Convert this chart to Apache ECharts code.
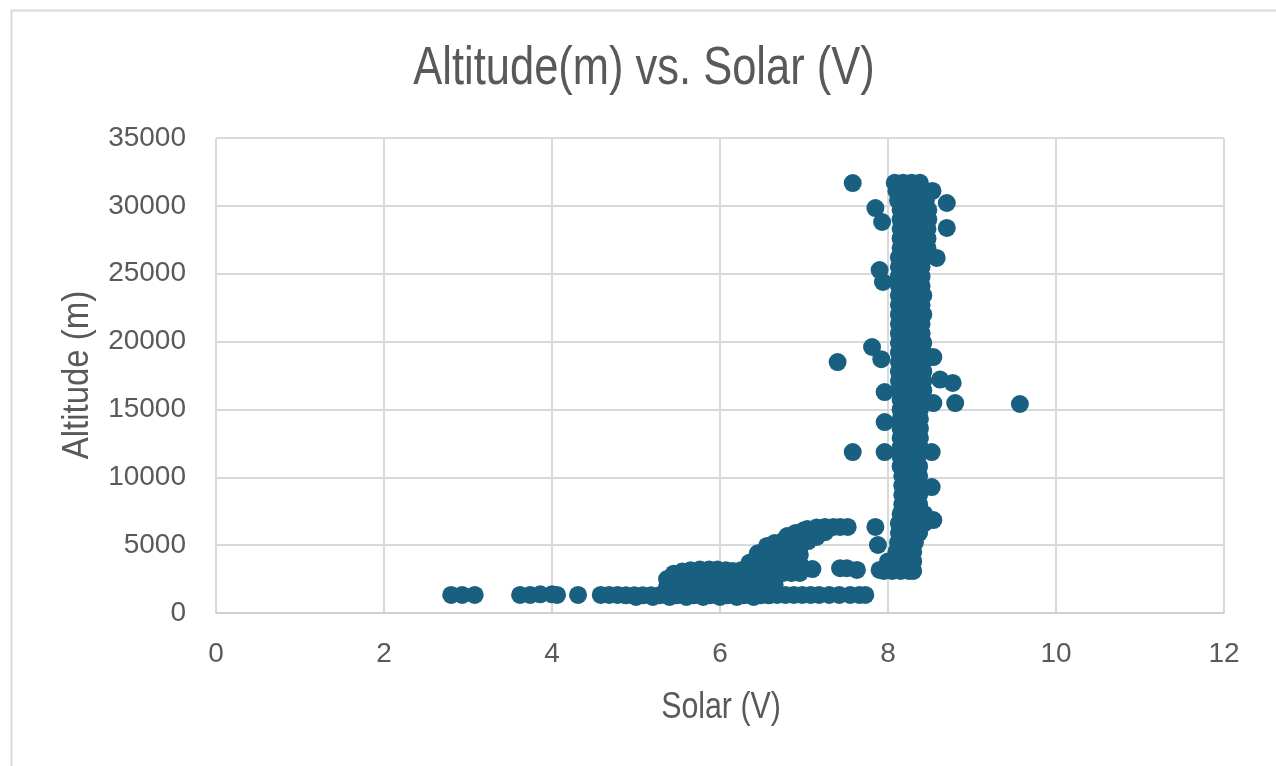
<!DOCTYPE html>
<html>
<head>
<meta charset="utf-8">
<script src="https://cdn.jsdelivr.net/npm/echarts@6/dist/echarts.min.js"></script>
<style>
html,body{margin:0;padding:0;background:#fff;}
#chart{width:1276px;height:766px;}
</style>
</head>
<body>
<div id="chart"></div>
<script>
// ---- data (Solar V, Altitude m) ----
const titleText = "Altitude(m) vs. Solar (V)";
const xAxisTitle = "Solar (V)";
const yAxisTitle = "Altitude (m)";
const xTicks = [0, 2, 4, 6, 8, 10, 12];
const yTicks = [0, 5000, 10000, 15000, 20000, 25000, 30000, 35000];

// low band near 1300 m
const lowBand = [
  [2.8,1330],[2.93,1330],[3.08,1330],
  [3.62,1330],[3.74,1330],[3.86,1380],[4.0,1380],[4.06,1330],
  [4.31,1330],
  [4.58,1330],[4.68,1330],[4.78,1330],[4.88,1300],[4.98,1300],[5.08,1300],[5.18,1300],
  [5.28,1300],[5.38,1300],[5.48,1300],[5.58,1300],[5.68,1300],[5.78,1300],[5.88,1300],
  [5.98,1300],[6.08,1300],[6.18,1300],[6.28,1300],[6.38,1300],[6.48,1300],[6.58,1300],
  [6.68,1330],[6.78,1330],[6.88,1330],[6.98,1330],[7.08,1330],[7.18,1330],[7.3,1330],
  [7.42,1330],[7.55,1330],[7.66,1330],[7.73,1330],
  [5.0,1180],[5.2,1180],[5.4,1180],[5.6,1180],[5.8,1180],[6.0,1180],[6.2,1180],[6.4,1180]
];

// middle band 1900-3200 m
const midBand = [
  [5.37,1900],[5.47,1900],[5.57,1900],[5.67,1900],[5.77,1900],[5.87,1900],[5.97,1900],[6.07,1900],[6.17,1900],
  [5.37,2500],[5.47,2600],[5.57,2600],[5.67,2600],[5.77,2600],[5.87,2600],[5.97,2600],[6.07,2600],[6.17,2600],
  [5.45,2900],[5.55,3050],[5.65,3150],[5.76,3200],[5.87,3200],[5.97,3200],[6.07,3150],[6.15,3100]
];

// rising curve 6.2-7.5 V
const riseCurve = [
  [6.25,1900],[6.25,2500],[6.25,3150],
  [6.35,1900],[6.35,2500],[6.35,3100],[6.35,3700],
  [6.45,1900],[6.45,2500],[6.45,3100],[6.45,3700],[6.45,4400],
  [6.55,2000],[6.55,2600],[6.55,3200],[6.55,3800],[6.55,4400],[6.56,4940],
  [6.65,2100],[6.65,2700],[6.65,3300],[6.65,3900],[6.65,4500],[6.65,5150],
  [6.75,2950],[6.75,3500],[6.75,4100],[6.75,4700],[6.75,5300],[6.8,5670],
  [6.85,2950],[6.85,3600],[6.85,4200],[6.85,4800],[6.85,5400],[6.9,5900],
  [6.95,2950],[6.95,3600],[6.95,4300],[6.95,4900],[6.97,5500],[7.0,6100],
  [7.05,5300],[7.05,5800],[7.04,6190],
  [7.15,5600],[7.15,6300],
  [7.25,5950],[7.25,6340],
  [7.35,6340],[7.43,6340],[7.52,6340],
  [7.1,3240],[7.43,3300],[7.51,3300],[7.63,3170]
];

// main vertical column near 8.1-8.5 V
const column = [
  [7.95,3100],[8.05,3100],[8.15,3100],[8.25,3100],[8.3,3100],
  [8.0,3800],[8.1,3800],[8.2,3800],[8.3,3800],
  [8.1,4500],[8.2,4500],[8.3,4500],
  [8.12,5200],[8.22,5200],[8.32,5200],
  [8.13,5900],[8.23,5900],[8.33,5900],[8.37,5900],
  [8.13,6600],[8.23,6600],[8.33,6600],[8.43,6600],
  [8.15,7300],[8.25,7300],[8.35,7300],[8.43,7300],
  [8.17,8000],[8.27,8000],[8.37,8000],
  [8.17,8700],[8.27,8700],[8.37,8700],
  [8.17,9400],[8.27,9400],[8.37,9400],
  [8.17,10100],[8.27,10100],[8.37,10100],
  [8.15,10800],[8.25,10800],[8.37,10800],
  [8.15,11500],[8.25,11500],[8.35,11500],
  [8.15,12200],[8.25,12200],[8.38,12200],
  [8.15,12900],[8.25,12900],[8.38,12900],
  [8.15,13600],[8.25,13600],[8.38,13600],
  [8.15,14300],[8.25,14300],[8.38,14300],
  [8.15,15000],[8.25,15000],[8.38,15000],
  [8.15,15700],[8.25,15700],[8.4,15700],
  [8.13,16400],[8.23,16400],[8.33,16400],[8.42,16400],
  [8.13,17100],[8.23,17100],[8.33,17100],[8.42,17100],
  [8.13,17800],[8.23,17800],[8.33,17800],[8.42,17800],
  [8.13,18500],[8.23,18500],[8.33,18500],[8.42,18500],
  [8.13,19200],[8.23,19200],[8.33,19200],[8.42,19200],
  [8.13,19900],[8.23,19900],[8.33,19900],[8.42,19900],
  [8.13,20600],[8.23,20600],[8.33,20600],[8.4,20600],
  [8.13,21300],[8.23,21300],[8.33,21300],[8.4,21300],
  [8.13,22000],[8.23,22000],[8.33,22000],[8.42,22000],
  [8.13,22700],[8.23,22700],[8.33,22700],[8.4,22700],
  [8.13,23400],[8.23,23400],[8.33,23400],[8.42,23400],
  [8.13,24100],[8.23,24100],[8.33,24100],[8.4,24100],
  [8.13,24800],[8.23,24800],[8.33,24800],[8.4,24800],
  [8.13,25500],[8.23,25500],[8.33,25500],[8.4,25500],
  [8.13,26200],[8.23,26200],[8.33,26200],[8.42,26200],
  [8.15,26900],[8.25,26900],[8.35,26900],[8.47,26900],
  [8.15,27600],[8.25,27600],[8.35,27600],[8.47,27600],
  [8.15,28300],[8.25,28300],[8.35,28300],[8.47,28300],
  [8.15,29000],[8.25,29000],[8.35,29000],[8.48,29000],
  [8.15,29700],[8.25,29700],[8.35,29700],[8.48,29700],
  [8.12,30400],[8.22,30400],[8.32,30400],[8.45,30400],
  [8.1,31100],[8.2,31100],[8.3,31100],[8.4,31100],[8.53,31100],
  [8.08,31700],[8.18,31700],[8.28,31700],[8.38,31700]
];

// scattered points around the column
const outliers = [
  [7.58,31680],[7.85,29840],[7.93,28810],[8.7,30210],[8.7,28370],[8.58,26160],
  [7.9,25270],[7.94,24390],[7.81,19600],[7.92,18700],[7.4,18490],[8.54,18860],
  [8.62,17200],[8.77,16950],[9.57,15400],[8.8,15470],[8.54,15470],[7.96,16280],
  [7.96,14070],[7.58,11860],[7.96,11860],[8.52,11860],[8.52,9280],[8.54,6850],
  [7.85,6340],[7.88,5010],[7.9,3170]
];

const allPoints = [].concat(lowBand, midBand, riseCurve, column, outliers);

const chart = echarts.init(document.getElementById('chart'), null, {renderer: 'canvas'});
const tickFont = '"Liberation Sans", Arial, sans-serif';
const textGray = '#595959';
const gridGray = '#d9d9d9';

chart.setOption({
  animation: false,
  backgroundColor: '#ffffff',
  graphic: [
    {
      type: 'rect',
      left: 9, top: 8,
      shape: {width: 1300, height: 800},
      style: {fill: 'none', stroke: '#d9d9d9', lineWidth: 2},
      silent: true, z: -10
    },
    {
      type: 'text',
      x: 644, y: 43,
      scaleX: 0.82,
      silent: true,
      style: {
        text: titleText,
        x: 0, y: 0,
        textAlign: 'center',
        textVerticalAlign: 'top',
        font: '53px "Liberation Sans", Arial, sans-serif',
        fill: textGray
      }
    },
    {
      type: 'text',
      x: 721, y: 689,
      scaleX: 0.82,
      silent: true,
      style: {
        text: xAxisTitle,
        x: 0, y: 0,
        textAlign: 'center',
        textVerticalAlign: 'top',
        font: '37px "Liberation Sans", Arial, sans-serif',
        fill: textGray
      }
    },
    {
      type: 'text',
      x: 78, y: 375,
      rotation: Math.PI / 2,
      scaleX: 0.89,
      silent: true,
      style: {
        text: yAxisTitle,
        x: 0, y: 0,
        textAlign: 'center',
        textVerticalAlign: 'middle',
        font: '37px "Liberation Sans", Arial, sans-serif',
        fill: textGray
      }
    }
  ],
  grid: {left: 216, right: 52, top: 138, bottom: 153, containLabel: false},
  xAxis: {
    type: 'value',
    min: xTicks[0], max: xTicks[xTicks.length - 1], interval: 2,
    axisLine: {show: true, lineStyle: {color: '#cfcfcf', width: 2}},
    axisTick: {show: false},
    axisLabel: {fontFamily: tickFont, fontSize: 28, color: textGray, margin: 27},
    splitLine: {show: true, lineStyle: {color: gridGray, width: 2}}
  },
  yAxis: {
    type: 'value',
    min: yTicks[0], max: yTicks[yTicks.length - 1], interval: 5000,
    axisLine: {show: false},
    axisTick: {show: false},
    axisLabel: {fontFamily: tickFont, fontSize: 28, color: textGray, margin: 30,
      formatter: function (v) { return String(v); }},
    splitLine: {show: true, lineStyle: {color: gridGray, width: 2}}
  },
  series: [{
    type: 'scatter',
    data: allPoints,
    symbol: 'circle',
    symbolSize: 18,
    itemStyle: {color: '#185f80', opacity: 1},
    emphasis: {disabled: true}
  }]
});
</script>
</body>
</html>
